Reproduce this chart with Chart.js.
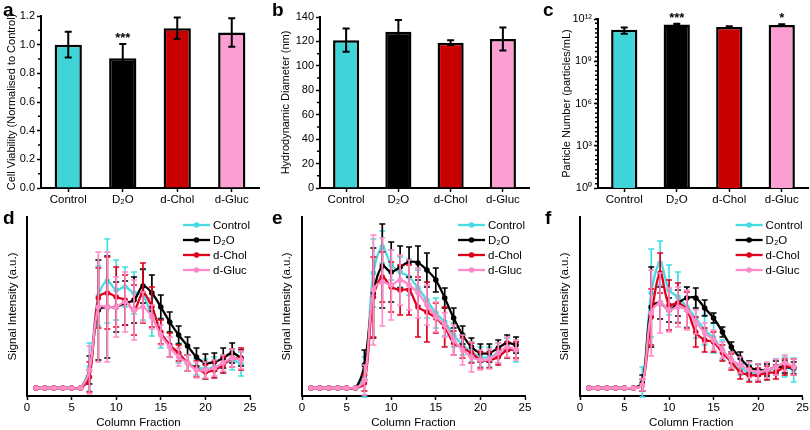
<!DOCTYPE html>
<html lang="en">
<head>
<meta charset="UTF-8">
<title>Figure</title>
<style>
  body { margin: 0; background: #fff; }
  #wrap { position: relative; width: 810px; height: 430px; overflow: hidden; }
  canvas { position: absolute; }
  .tag { position: absolute; font: bold 19px 'Liberation Sans', Arial, sans-serif; line-height: 1; }
</style>
</head>
<body>
<div id="wrap">
  <canvas id="a" width="270" height="210" style="left:0;top:0"></canvas>
  <canvas id="b" width="270" height="210" style="left:270px;top:0"></canvas>
  <canvas id="c" width="270" height="210" style="left:540px;top:0"></canvas>
  <canvas id="d" width="270" height="220" style="left:0;top:210px"></canvas>
  <canvas id="e" width="270" height="220" style="left:270px;top:210px"></canvas>
  <canvas id="f" width="270" height="220" style="left:540px;top:210px"></canvas>
  <div class="tag" style="left:3px;top:0">a</div>
  <div class="tag" style="left:272px;top:0">b</div>
  <div class="tag" style="left:543px;top:0">c</div>
  <div class="tag" style="left:3px;top:208px">d</div>
  <div class="tag" style="left:272px;top:208px">e</div>
  <div class="tag" style="left:545px;top:208px">f</div>
</div>

<script src="https://cdn.jsdelivr.net/npm/chart.js"></script>

<script>
  // groups and bar data (panels a-c)
  const groups = ['Control', 'D\u2082O', 'd-Chol', 'd-Gluc'];

  const viability = [1.00, 0.905, 1.115, 1.085];
  const viabilityErr = [0.09, 0.10, 0.075, 0.10];
  const viabilityStars = ['', '***', '', ''];
  const viabilityTicks = [0, 0.2, 0.4, 0.6, 0.8, 1.0, 1.2];

  const diameter = [121, 128, 119, 122];
  const diameterErr = [9.5, 9.5, 2, 9.5];
  const diameterTicks = [0, 20, 40, 60, 80, 100, 120, 140];

  const particles = [1.7e11, 4.1e11, 2.7e11, 3.7e11];
  const particlesErr = [0.8e11, 0.5e11, 0.4e11, 0.5e11];
  const particlesStars = ['', '***', '', '*'];
  const particleTicks = [1, 1e3, 1e6, 1e9, 1e12];
  const particleTickLabels = ['10\u2070', '10\u00b3', '10\u2076', '10\u2079', '10\u00b9\u00b2'];

  // column fractions (panels d-f)
  const fractions = [1, 2, 3, 4, 5, 6, 7, 8, 9, 10, 11, 12, 13, 14, 15, 16, 17, 18, 19, 20, 21, 22, 23, 24];
  const fractionTicks = [0, 5, 10, 15, 20, 25];

  const dControl = [0, 0, 0, 0, 0, 0, 21, 92, 107, 98, 101, 95, 93, 71, 55, 43, 35, 25, 21, 19, 21, 24, 28, 24];
  const dControlErr = [0, 0, 0, 0, 0, 0, 24, 30, 42, 30, 20, 21, 25, 19, 15, 12, 10, 8, 8, 10, 10, 9, 10, 12];
  const dD2O = [0, 0, 0, 0, 0, 0, 18, 78, 81, 81, 85, 88, 102, 95, 81, 66, 53, 42, 31, 25, 26, 30, 35, 30];
  const dD2OErr = [0, 0, 0, 0, 0, 0, 14, 50, 51, 25, 22, 23, 17, 18, 12, 10, 9, 9, 9, 9, 9, 10, 10, 8];
  const dChol = [0, 0, 0, 0, 0, 0, 11, 90, 95, 91, 88, 78, 95, 81, 56, 43, 35, 25, 19, 16, 18, 23, 30, 29];
  const dCholErr = [0, 0, 0, 0, 0, 0, 15, 30, 36, 30, 25, 25, 30, 20, 12, 12, 8, 8, 8, 7, 8, 8, 9, 11];
  const dGluc = [0, 0, 0, 0, 0, 0, 18, 81, 81, 81, 86, 78, 81, 71, 53, 41, 31, 25, 18, 18, 20, 25, 30, 28];
  const dGlucErr = [0, 0, 0, 0, 0, 0, 24, 55, 55, 30, 30, 30, 15, 12, 10, 10, 9, 8, 8, 8, 8, 8, 9, 9];

  const eControl = [0, 0, 0, 0, 0, 0, 11, 115, 141, 123, 116, 111, 100, 88, 75, 66, 53, 43, 36, 31, 31, 35, 40, 36];
  const eControlErr = [0, 0, 0, 0, 0, 0, 20, 34, 16, 15, 15, 18, 18, 18, 15, 14, 12, 10, 10, 10, 10, 10, 10, 10];
  const eD2O = [0, 0, 0, 0, 0, 0, 23, 95, 122, 116, 121, 126, 125, 118, 108, 90, 70, 53, 41, 35, 35, 40, 45, 43];
  const eD2OErr = [0, 0, 0, 0, 0, 0, 15, 45, 42, 30, 21, 15, 17, 17, 12, 10, 10, 9, 9, 9, 9, 8, 8, 8];
  const eChol = [0, 0, 0, 0, 0, 0, 5, 91, 111, 101, 98, 98, 81, 76, 70, 61, 45, 40, 35, 28, 28, 31, 38, 38];
  const eCholErr = [0, 0, 0, 0, 0, 0, 8, 40, 25, 25, 25, 25, 30, 30, 15, 20, 12, 10, 10, 8, 8, 8, 8, 8];
  const eGluc = [0, 0, 0, 0, 0, 0, 8, 98, 106, 103, 108, 103, 95, 83, 71, 63, 48, 38, 31, 28, 29, 35, 41, 38];
  const eGlucErr = [0, 0, 0, 0, 0, 0, 15, 55, 44, 35, 25, 25, 25, 20, 15, 12, 15, 15, 15, 10, 10, 10, 10, 10];

  const fControl = [0, 0, 0, 0, 0, 0, 6, 95, 125, 98, 91, 81, 70, 58, 50, 38, 28, 21, 15, 15, 16, 21, 21, 18];
  const fControlErr = [0, 0, 0, 0, 0, 0, 15, 44, 22, 25, 25, 20, 20, 15, 15, 10, 8, 8, 8, 8, 8, 8, 10, 12];
  const fD2O = [0, 0, 0, 0, 0, 0, 5, 81, 85, 78, 85, 90, 90, 80, 70, 56, 41, 30, 21, 18, 18, 21, 21, 20];
  const fD2OErr = [0, 0, 0, 0, 0, 0, 8, 40, 16, 12, 13, 11, 10, 8, 5, 5, 5, 6, 6, 6, 6, 6, 6, 6];
  const fChol = [0, 0, 0, 0, 0, 0, 3, 71, 115, 83, 85, 78, 56, 48, 46, 35, 26, 16, 13, 13, 15, 16, 21, 21];
  const fCholErr = [0, 0, 0, 0, 0, 0, 6, 28, 20, 25, 20, 18, 15, 12, 10, 8, 8, 7, 7, 7, 7, 7, 8, 8];
  const fGluc = [0, 0, 0, 0, 0, 0, 3, 75, 85, 78, 81, 78, 66, 55, 48, 38, 28, 23, 18, 16, 18, 21, 25, 21];
  const fGlucErr = [0, 0, 0, 0, 0, 0, 6, 43, 30, 22, 20, 20, 12, 10, 10, 8, 8, 8, 8, 8, 8, 8, 8, 8];

  const barColors = ['#3fd5d8', '#000000', '#c80000', '#fb9fd3'];
  const lineColors = ['#45dde2', '#000000', '#e0001b', '#ff8cc9'];

  Chart.defaults.font.family = "'Liberation Sans', Arial, sans-serif";
  Chart.defaults.font.size = 11;
  Chart.defaults.color = '#000';
  Chart.defaults.animation = false;
  Chart.defaults.plugins.legend.display = false;
  Chart.defaults.plugins.tooltip.enabled = false;

  const errorBars = {
    id: 'errorBars',
    afterDatasetDraw(chart, args) {
      const ds = chart.data.datasets[args.index];
      if (!ds.errors) return;
      const y = chart.scales.y;
      const ctx = chart.ctx;
      const cap = ds.capWidth || 3;
      ctx.save();
      ctx.strokeStyle = ds.errorColor || ds.borderColor;
      ctx.lineWidth = ds.errorWidth || 1.5;
      args.meta.data.forEach((el, i) => {
        const e = ds.errors[i];
        if (!e) return;
        const v = typeof ds.data[i] === 'object' ? ds.data[i].y : ds.data[i];
        const top = y.getPixelForValue(v + e);
        const bot = y.getPixelForValue(v - e);
        ctx.beginPath();
        ctx.moveTo(el.x, top); ctx.lineTo(el.x, bot);
        ctx.moveTo(el.x - cap, top); ctx.lineTo(el.x + cap, top);
        ctx.moveTo(el.x - cap, bot); ctx.lineTo(el.x + cap, bot);
        ctx.stroke();
      });
      ctx.restore();
    },
    afterDatasetsDraw(chart) {
      const ctx = chart.ctx;
      const y = chart.scales.y;
      chart.data.datasets.forEach((ds, k) => {
        if (!ds.stars) return;
        const meta = chart.getDatasetMeta(k);
        ctx.save();
        ctx.font = "bold 13px 'Liberation Sans', Arial, sans-serif";
        ctx.textAlign = 'center';
        ctx.textBaseline = 'bottom';
        ds.stars.forEach((s, i) => {
          if (!s) return;
          const top = y.getPixelForValue(ds.data[i] + ds.errors[i]);
          ctx.fillText(s, meta.data[i].x, top + 1);
        });
        ctx.restore();
      });
    }
  };

  const minorTicks = {
    id: 'minorTicks',
    afterDraw(chart, args, opts) {
      if (!opts.values) return;
      const y = chart.scales.y;
      const ctx = chart.ctx;
      ctx.save();
      ctx.strokeStyle = '#000';
      ctx.lineWidth = 1.5;
      ctx.beginPath();
      opts.values.forEach((v) => {
        const py = y.getPixelForValue(v);
        ctx.moveTo(y.right - opts.length, py);
        ctx.lineTo(y.right, py);
      });
      ctx.stroke();
      ctx.restore();
    }
  };

  const lineLegend = {
    id: 'lineLegend',
    afterDraw(chart, args, opts) {
      if (!opts.show) return;
      const ctx = chart.ctx;
      const x0 = chart.chartArea.right - 67;
      chart.data.datasets.forEach((ds, k) => {
        const yy = chart.chartArea.top + 8 + k * 15;
        ctx.save();
        ctx.strokeStyle = ds.borderColor;
        ctx.fillStyle = ds.borderColor;
        ctx.lineWidth = 2.3;
        ctx.beginPath();
        ctx.moveTo(x0, yy);
        ctx.lineTo(x0 + 27, yy);
        ctx.stroke();
        ctx.beginPath();
        ctx.arc(x0 + 13.5, yy, 2.8, 0, Math.PI * 2);
        ctx.fill();
        ctx.fillStyle = '#000';
        ctx.font = "11.5px 'Liberation Sans', Arial, sans-serif";
        ctx.textBaseline = 'middle';
        ctx.fillText(ds.label, x0 + 30, yy + 0.5);
        ctx.restore();
      });
    }
  };

  Chart.register(errorBars, minorTicks, lineLegend);

  function barPanel(id, cfg) {
    return new Chart(document.getElementById(id), {
      type: 'bar',
      data: {
        labels: groups,
        datasets: [{
          data: cfg.values,
          errors: cfg.errors,
          stars: cfg.stars,
          backgroundColor: barColors,
          borderColor: '#000',
          borderWidth: 2.5,
          errorColor: '#000',
          errorWidth: 2,
          capWidth: 3.5,
          barPercentage: 0.5,
          categoryPercentage: 1
        }]
      },
      options: {
        responsive: false,
        layout: { padding: { left: 0, right: cfg.padRight, top: cfg.top, bottom: 0 } },
        plugins: {
          minorTicks: { values: cfg.minor, length: 3 }
        },
        scales: {
          x: {
            grid: { drawOnChartArea: false, offset: false, tickLength: 4, tickWidth: 1.5, tickColor: '#000' },
            border: { color: '#000', width: 2 },
            ticks: { padding: 1, font: { size: 11.5 } },
            afterFit(s) { s.height = 22; }
          },
          y: {
            type: cfg.log ? 'logarithmic' : 'linear',
            min: cfg.min,
            max: cfg.max,
            afterBuildTicks(s) { s.ticks = cfg.ticks.map((v) => ({ value: v })); },
            ticks: { padding: 2, autoSkip: false, callback: cfg.format },
            grid: { drawOnChartArea: false, tickLength: 4, tickWidth: 1.5, tickColor: '#000' },
            border: { color: '#000', width: 2 },
            title: { display: true, text: cfg.title, padding: { top: cfg.titlePad, bottom: 0 } },
            afterFit(s) { s.width = cfg.yWidth; }
          }
        }
      }
    });
  }

  function linePanel(id, series, errs, cfg) {
    return new Chart(document.getElementById(id), {
      type: 'line',
      data: {
        datasets: series.map((vals, k) => ({
          label: groups[k],
          data: vals.map((v, i) => ({ x: fractions[i], y: v })),
          errors: errs[k],
          borderColor: lineColors[k],
          backgroundColor: lineColors[k],
          borderWidth: 2.3,
          pointRadius: 2.8,
          pointBorderWidth: 0,
          tension: 0.35,
          capWidth: 3,
          errorWidth: 1.7,
          order: 3 - k
        }))
      },
      options: {
        responsive: false,
        layout: { padding: { left: 0, right: cfg.padRight, top: 7, bottom: 0 } },
        plugins: { lineLegend: { show: true } },
        scales: {
          x: {
            type: 'linear',
            min: 0,
            max: 25,
            afterBuildTicks(s) { s.ticks = fractionTicks.map((v) => ({ value: v })); },
            ticks: { padding: 1, font: { size: 11.5 } },
            grid: { drawOnChartArea: false, tickLength: 4, tickWidth: 1.5, tickColor: '#000' },
            border: { color: '#000', width: 2 },
            title: { display: true, text: 'Column Fraction', padding: 0, font: { size: 11.5 } },
            afterFit(s) { s.height = 34; }
          },
          y: {
            type: 'linear',
            min: -8,
            max: 171,
            ticks: { display: false },
            grid: { display: false },
            border: { color: '#000', width: 2 },
            title: { display: true, text: 'Signal Intensity (a.u.)', padding: { top: cfg.titlePad, bottom: 0 }, font: { size: 11.5 } },
            afterFit(s) { s.width = cfg.yWidth; }
          }
        }
      }
    });
  }

  const logMinor = [];
  for (let n = 0; n < 12; n++) {
    [2, 5, 10].forEach((m) => logMinor.push(m * Math.pow(10, n)));
  }

  barPanel('a', {
    values: viability, errors: viabilityErr, stars: viabilityStars,
    min: 0, max: 1.2, ticks: viabilityTicks, format: (v) => v.toFixed(1),
    minor: [0.1, 0.3, 0.5, 0.7, 0.9, 1.1],
    title: 'Cell Viability (Normalised to Control)', titlePad: 5,
    yWidth: 41, padRight: 11, top: 16
  });

  barPanel('b', {
    values: diameter, errors: diameterErr,
    min: 0, max: 140, ticks: diameterTicks, format: (v) => String(v),
    minor: [10, 30, 50, 70, 90, 110, 130],
    title: 'Hydrodynamic Diameter (nm)', titlePad: 9,
    yWidth: 50, padRight: 11, top: 17
  });

  barPanel('c', {
    values: particles, errors: particlesErr, stars: particlesStars, log: true,
    min: 1, max: 1e12, ticks: particleTicks,
    format: (v) => particleTickLabels[particleTicks.indexOf(v)] || '',
    minor: logMinor,
    title: 'Particle Number (particles/mL)', titlePad: 20,
    yWidth: 58, padRight: 2, top: 19
  });

  linePanel('d', [dControl, dD2O, dChol, dGluc], [dControlErr, dD2OErr, dCholErr, dGlucErr],
    { yWidth: 27, padRight: 20, titlePad: 6 });
  linePanel('e', [eControl, eD2O, eChol, eGluc], [eControlErr, eD2OErr, eCholErr, eGlucErr],
    { yWidth: 32, padRight: 15, titlePad: 10 });
  linePanel('f', [fControl, fD2O, fChol, fGluc], [fControlErr, fD2OErr, fCholErr, fGlucErr],
    { yWidth: 40, padRight: 7, titlePad: 18 });
</script>
</body>
</html>
